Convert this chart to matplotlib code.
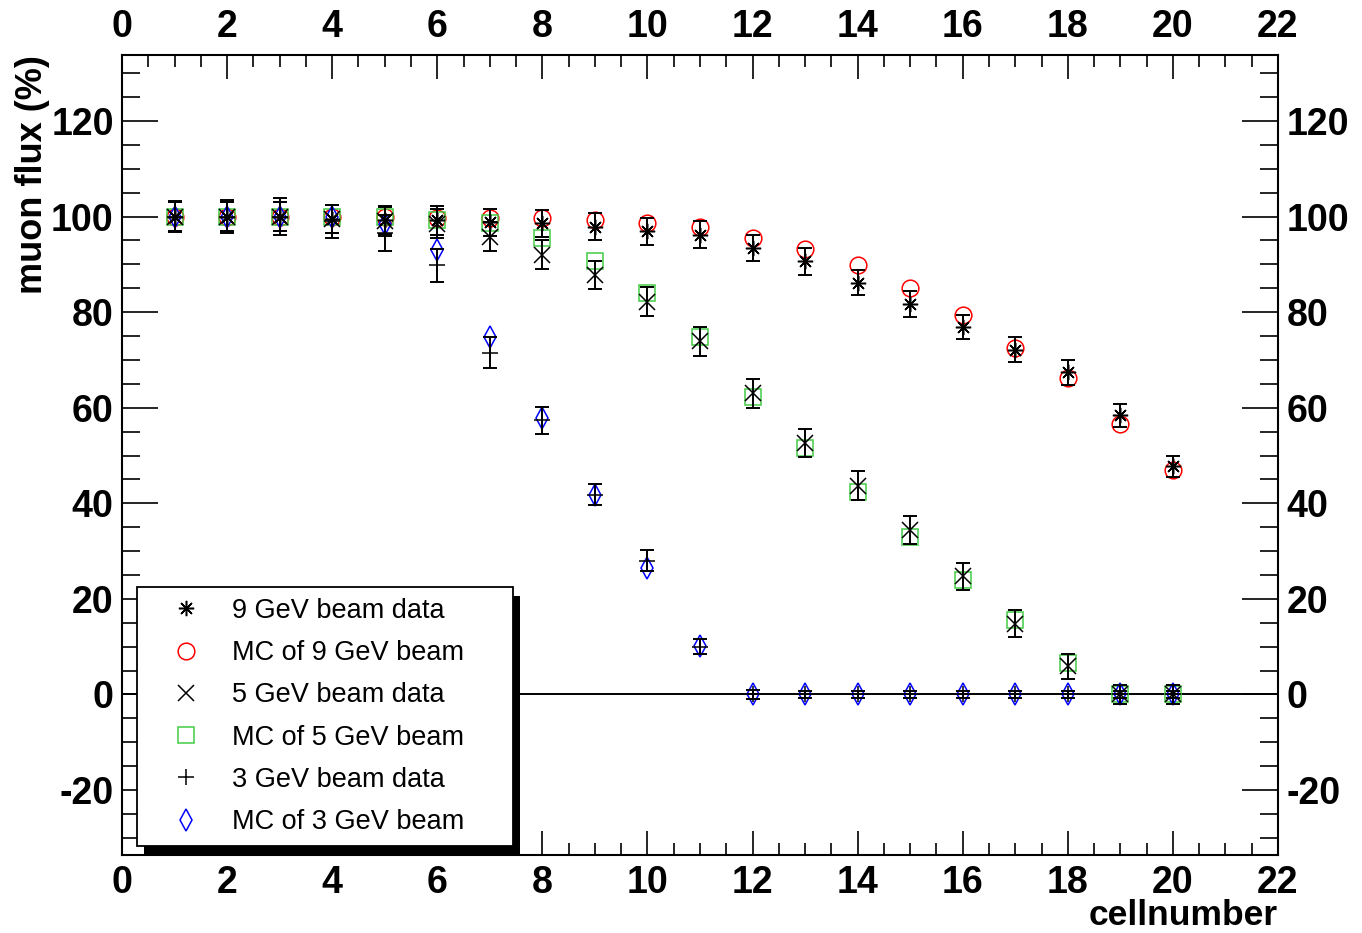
import matplotlib
matplotlib.use("Agg")
import matplotlib.pyplot as plt
from matplotlib.patches import Rectangle
from matplotlib.ticker import MultipleLocator

plt.rcParams['font.family'] = ['Liberation Sans', 'DejaVu Sans']
plt.rcParams['axes.unicode_minus'] = False

# cell numbers
cells = list(range(1, 21))

# 9 GeV beam
data9 = [100, 100, 100, 99.5, 99.3, 99.2, 98.8, 98.6, 97.9, 96.9,
         96.2, 93.4, 90.6, 86.2, 81.7, 76.9, 72.1, 67.4, 58.4, 47.7]
err9 = [3.0, 3.0, 3.0, 3.0, 3.0, 3.0, 2.8, 2.8, 2.8, 2.8,
        2.8, 2.8, 2.8, 2.7, 2.7, 2.6, 2.6, 2.6, 2.4, 2.2]
mc9 = [100, 100, 100, 100, 100, 99.8, 99.8, 99.7, 99.2, 98.7,
       97.9, 95.5, 93.2, 89.8, 85.0, 79.3, 72.5, 66.3, 56.6, 47.0]

# 5 GeV beam
data5 = [100, 100, 100, 99.5, 99.0, 98.5, 95.8, 92.0, 87.8, 82.2,
         73.9, 63.0, 52.6, 43.7, 34.4, 24.7, 14.8, 5.9, 0.0, 0.0]
err5 = [3.0, 3.0, 3.0, 3.0, 3.0, 3.0, 3.0, 3.0, 3.0, 3.0,
        3.0, 3.0, 3.0, 3.0, 3.0, 2.8, 2.8, 2.6, 2.0, 2.0]
mc5 = [100, 100, 100, 100, 100, 99.3, 98.6, 95.5, 90.6, 84.0,
       74.7, 62.2, 51.5, 42.3, 33.0, 24.0, 15.6, 6.6, 0.1, 0.0]

# 3 GeV beam
data3 = [100, 100, 100, 99.0, 96.6, 89.8, 71.5, 57.4, 41.8, 28.0,
         10.0, 0, 0, 0, 0, 0, 0, 0, 0, 0]
err3 = [3.2, 3.4, 3.8, 3.4, 3.8, 3.5, 3.2, 2.8, 2.2, 2.2,
        1.6, 1.0, 0.8, 0.8, 0.8, 0.8, 0.8, 0.8, 0.8, 0.8]
mc3 = [100, 100, 100, 100, 98.5, 93.0, 74.8, 57.8, 41.8, 26.4,
       10.1, 0, 0, 0, 0, 0, 0, 0, 0, 0]

fig = plt.figure(figsize=(13.62, 9.33), dpi=100)
ax = fig.add_axes([0.0896, 0.0836, 0.8487, 0.8574])

ax.axhline(0, color='black', lw=1.4, zorder=1)

star = (8, 2, 0)
ms = 12
mew = 1.1

# MC points first
ax.plot(cells, mc9, ls='none', marker='o', ms=ms, mfc='none', mec='#ff0000', mew=mew, zorder=3)
ax.plot(cells, mc5, ls='none', marker='s', ms=ms, mfc='none', mec='#44cc44', mew=mew, zorder=3)
ax.plot(cells, mc3, ls='none', marker='d', ms=ms - 1, mfc='none', mec='#0000ff', mew=mew, zorder=3)

# data with error bars
for y, e, m in [(data9, err9, star), (data5, err5, 'x'), (data3, err3, '+')]:
    ax.errorbar(cells, y, yerr=e, fmt='none', ecolor='black', elinewidth=1.4,
                capsize=5, capthick=1.4, zorder=4)
    ax.plot(cells, y, ls='none', marker=m, ms=ms - 1, color='black', mew=mew, zorder=4)

ax.set_xlim(0, 22)
ax.set_ylim(-33.6, 133.8)
ax.xaxis.set_major_locator(MultipleLocator(2))
ax.xaxis.set_minor_locator(MultipleLocator(0.5))
ax.yaxis.set_major_locator(MultipleLocator(20))
ax.yaxis.set_minor_locator(MultipleLocator(5))

for s in ax.spines.values():
    s.set_linewidth(1.5)

ax.tick_params(axis='both', which='both', direction='in', top=True, right=True,
               labeltop=True, labelright=True, width=1.2)
ax.tick_params(axis='x', which='major', length=17, pad=7.5, labelsize=27)
ax.tick_params(axis='x', which='minor', length=8.5)
ax.tick_params(axis='y', which='major', length=26, pad=6, labelsize=27)
ax.tick_params(axis='y', which='minor', length=13)
for t in ax.xaxis.get_major_ticks() + ax.yaxis.get_major_ticks():
    t.label1.set_fontweight('bold')
    t.label2.set_fontweight('bold')

ax.set_xlabel('cellnumber', fontsize=25.5, fontweight='bold', loc='right')
ax.xaxis.set_label_coords(1.0, -0.0555)
ax.set_ylabel('muon flux (%)', fontsize=26, fontweight='bold', loc='top')
ax.yaxis.set_label_coords(-0.062, 1.0)

# legend with marker-only handles
handles = [
    plt.Line2D([], [], ls='none', marker=star, ms=ms - 1, color='black', mew=mew),
    plt.Line2D([], [], ls='none', marker='o', ms=ms, mfc='none', mec='#ff0000', mew=mew),
    plt.Line2D([], [], ls='none', marker='x', ms=ms - 1, color='black', mew=mew),
    plt.Line2D([], [], ls='none', marker='s', ms=ms, mfc='none', mec='#44cc44', mew=mew),
    plt.Line2D([], [], ls='none', marker='+', ms=ms - 1, color='black', mew=mew),
    plt.Line2D([], [], ls='none', marker='d', ms=ms - 1, mfc='none', mec='#0000ff', mew=mew),
]
labels = ['9 GeV beam data', 'MC of 9 GeV beam', '5 GeV beam data',
          'MC of 5 GeV beam', '3 GeV beam data', 'MC of 3 GeV beam']
leg = ax.legend(handles, labels, loc='upper left', bbox_to_anchor=(0.013, 0.009, 0.325, 0.326),
                mode='expand', borderaxespad=0, fontsize=19.5, fancybox=False,
                framealpha=1, edgecolor='black', handlelength=2.8, handletextpad=0.3,
                borderpad=0.4, labelspacing=0.6)
leg.get_frame().set_linewidth(1.3)
leg.set_zorder(6)

fig.canvas.draw()
bb = leg.get_window_extent()
shadow = Rectangle((bb.x0 + 7, bb.y0 - 9), bb.width, bb.height, transform=None,
                   facecolor='black', edgecolor='none', zorder=5.9)
ax.add_patch(shadow)
shadow.set_clip_box(ax.bbox)

fig.savefig('out.png', dpi=100)
